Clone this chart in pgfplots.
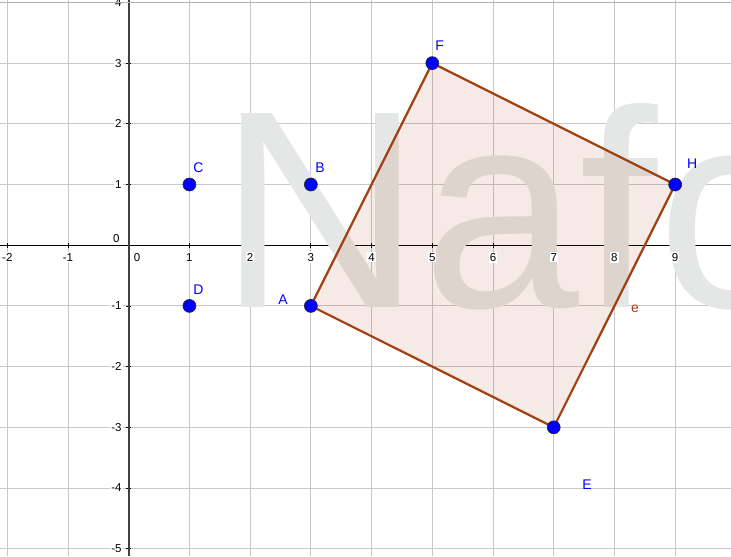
\documentclass[border=0pt]{standalone}
\usepackage{pgfplots}
\pgfplotsset{compat=1.18}
\usepackage{fontspec}
\setmainfont{Liberation Sans}
\definecolor{ggbrown}{RGB}{160,64,20}
\definecolor{ggfill}{RGB}{153,51,0}
\definecolor{ggblue}{RGB}{0,0,255}
\definecolor{gridc}{RGB}{200,200,200}
\definecolor{wm}{RGB}{229,231,230}
\begin{document}
\begin{tikzpicture}
\begin{axis}[
  scale only axis, width=731pt, height=556pt,
  xmin=-2.12, xmax=9.92, ymin=-5.12, ymax=4.04,
  axis lines=middle,
  axis line style={-},
  x axis line style={black, line width=1pt},
  y axis line style={black!75, line width=1.8pt},
  xtick={-2,...,9}, ytick={-5,...,4},
  xticklabels={}, yticklabels={},
  grid=major,
  grid style={gridc, line width=1pt},
  major tick length=5pt,
  tick style={black, line width=0.8pt},
  clip=true,
]
\coordinate (sw) at (rel axis cs:0,0);
\coordinate (ne) at (rel axis cs:1,1);
\node[anchor=base west, text=wm, font=\fontsize{282}{282}\selectfont, inner sep=0pt] at (axis cs:1.48,-1.02) {Nafc};
\addplot[draw=ggbrown, line width=2.2pt, line join=round, fill=ggfill, fill opacity=0.1, draw opacity=1]
  coordinates {(3,-1) (5,3) (9,1) (7,-3)} -- cycle;
\pgfplotsinvokeforeach{-2,-1,1,2,3,4,5,6,7,8,9}{
  \node[anchor=north, font=\fontsize{11.5}{12}\selectfont, fill=white, inner sep=1pt] at (axis cs:#1,0) [yshift=-7pt] {#1};
}
\pgfplotsinvokeforeach{-5,-4,-3,-2,-1,1,2,3,4}{
  \node[anchor=east, font=\fontsize{11.5}{12}\selectfont, fill=white, inner sep=1pt] at (axis cs:0,#1) [xshift=-6pt] {#1};
}
\node[anchor=north west, font=\fontsize{11.5}{12}\selectfont, inner sep=1pt] at (axis cs:0,0) [xshift=4pt, yshift=-7pt] {0};
\node[anchor=south east, font=\fontsize{11.5}{12}\selectfont, inner sep=1pt] at (axis cs:0,0) [xshift=-8pt, yshift=1pt] {0};
\addplot[only marks, mark=*, mark size=6.5pt, mark options={fill=ggblue, draw=black!85, line width=0.6pt}]
  coordinates {(1,1) (3,1) (1,-1) (3,-1) (5,3) (9,1) (7,-3)};
\begin{scope}[font=\fontsize{14}{14}\selectfont, text=ggblue]
\node at (axis cs:5.12,3.28) {F};
\node at (axis cs:9.28,1.35) {H};
\node at (axis cs:1.15,1.27) {C};
\node at (axis cs:3.15,1.27) {B};
\node at (axis cs:1.15,-0.74) {D};
\node at (axis cs:2.54,-0.89) {A};
\node at (axis cs:7.55,-3.94) {E};
\end{scope}
\node[text=ggbrown, font=\fontsize{14}{14}\selectfont] at (axis cs:8.34,-1.05) {e};
\draw[gray!60, line width=1pt] (rel axis cs:0,0.996) -- (rel axis cs:1,0.996);
\end{axis}
\pgfresetboundingbox
\path[use as bounding box] (sw) rectangle (ne);
\end{tikzpicture}
\end{document}
